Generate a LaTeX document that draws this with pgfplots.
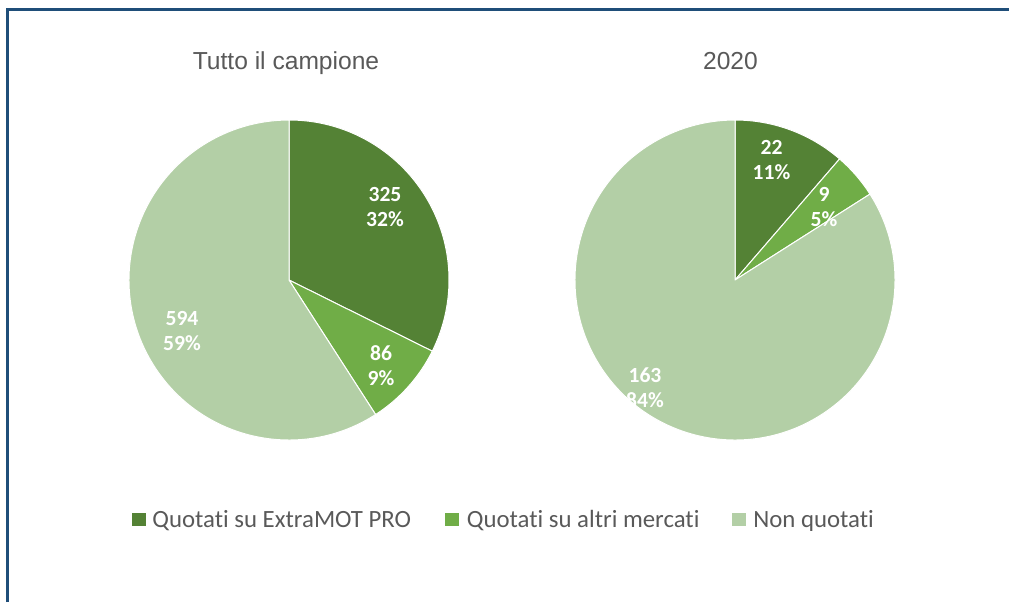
\documentclass[border=0pt]{standalone}
\usepackage{pgfplots}
\pgfplotsset{compat=1.18}
\usepackage{fontspec}
\setmainfont[Ligatures=NoCommon]{Carlito}
\newfontfamily\titlefont{Liberation Sans}

\definecolor{frameblue}{HTML}{1F4E79}
\definecolor{gA}{HTML}{548235}
\definecolor{gB}{HTML}{70AD47}
\definecolor{gC}{HTML}{B3CFA6}
\definecolor{txt}{HTML}{595959}

% one pie slice: cx, cy, cumulative from, cumulative to, total, colour
\newcommand{\slice}[6]{%
  \fill[#6, draw=white, line width=0.5pt, line join=round]
    (axis cs:#1,#2) -- (axis cs:{#1+160*cos(90-360*(#3/#5))},{#2+160*sin(90-360*(#3/#5))})
    arc[start angle={90-360*(#3/#5)}, end angle={90-360*(#4/#5)}, radius=80pt] -- cycle;}
% data label: x, y (from top), value, share
\newcommand{\lab}[4]{%
  \node[font=\bfseries\fontsize{10.8}{12.5}\selectfont, text=white, align=center, inner sep=0pt]
    at (axis cs:#1,{602-#2}) {#3\\#4};}
% legend entry: square x, text x, colour, text
\newcommand{\legentry}[4]{%
  \fill[#3] (axis cs:#1,{602-512.5}) rectangle (axis cs:{#1+13.5},{602-526});
  \node[anchor=base west, text=txt, font=\fontsize{12.4}{14}\selectfont, inner sep=0pt]
    at (axis cs:#2,{602-527}) {#4};}

\begin{document}
\begin{tikzpicture}
\path[use as bounding box] (0,0) rectangle (504.5pt,301pt);
\begin{axis}[
  width=504.5pt, height=301pt, scale only axis,
  xmin=0, xmax=1009, ymin=0, ymax=602,
  hide axis, clip=false,
]
  \draw[frameblue, line width=1.5pt, line join=miter] (axis cs:7.5,0) -- (axis cs:7.5,593) -- (axis cs:1009,593);

  % Tutto il campione: 325, 86, 594 (total 1005)
  \slice{289}{322}{0}{325}{1005}{gA}
  \slice{289}{322}{325}{411}{1005}{gB}
  \slice{289}{322}{411}{1005}{1005}{gC}
  % 2020: 22, 9, 163 (total 194)
  \slice{735}{322}{0}{22}{194}{gA}
  \slice{735}{322}{22}{31}{194}{gB}
  \slice{735}{322}{31}{194}{194}{gC}

  \lab{385}{207}{325}{32\%}
  \lab{381}{366}{86}{9\%}
  \lab{182}{331.5}{594}{59\%}
  \lab{771.5}{160}{22}{11\%}
  \lab{824}{207}{9}{5\%}
  \lab{645}{388}{163}{84\%}

  \node[anchor=base, text=txt, font=\titlefont\fontsize{12.3}{14}\selectfont] at (axis cs:286,{602-69.5}) {Tutto il campione};
  \node[anchor=base, text=txt, font=\titlefont\fontsize{12.3}{14}\selectfont] at (axis cs:730.5,{602-69.5}) {2020};

  \legentry{132}{152}{gA}{Quotati su ExtraMOT PRO}
  \legentry{445}{466.5}{gB}{Quotati su altri mercati}
  \legentry{732}{753}{gC}{Non quotati}
\end{axis}
\end{tikzpicture}
\end{document}
